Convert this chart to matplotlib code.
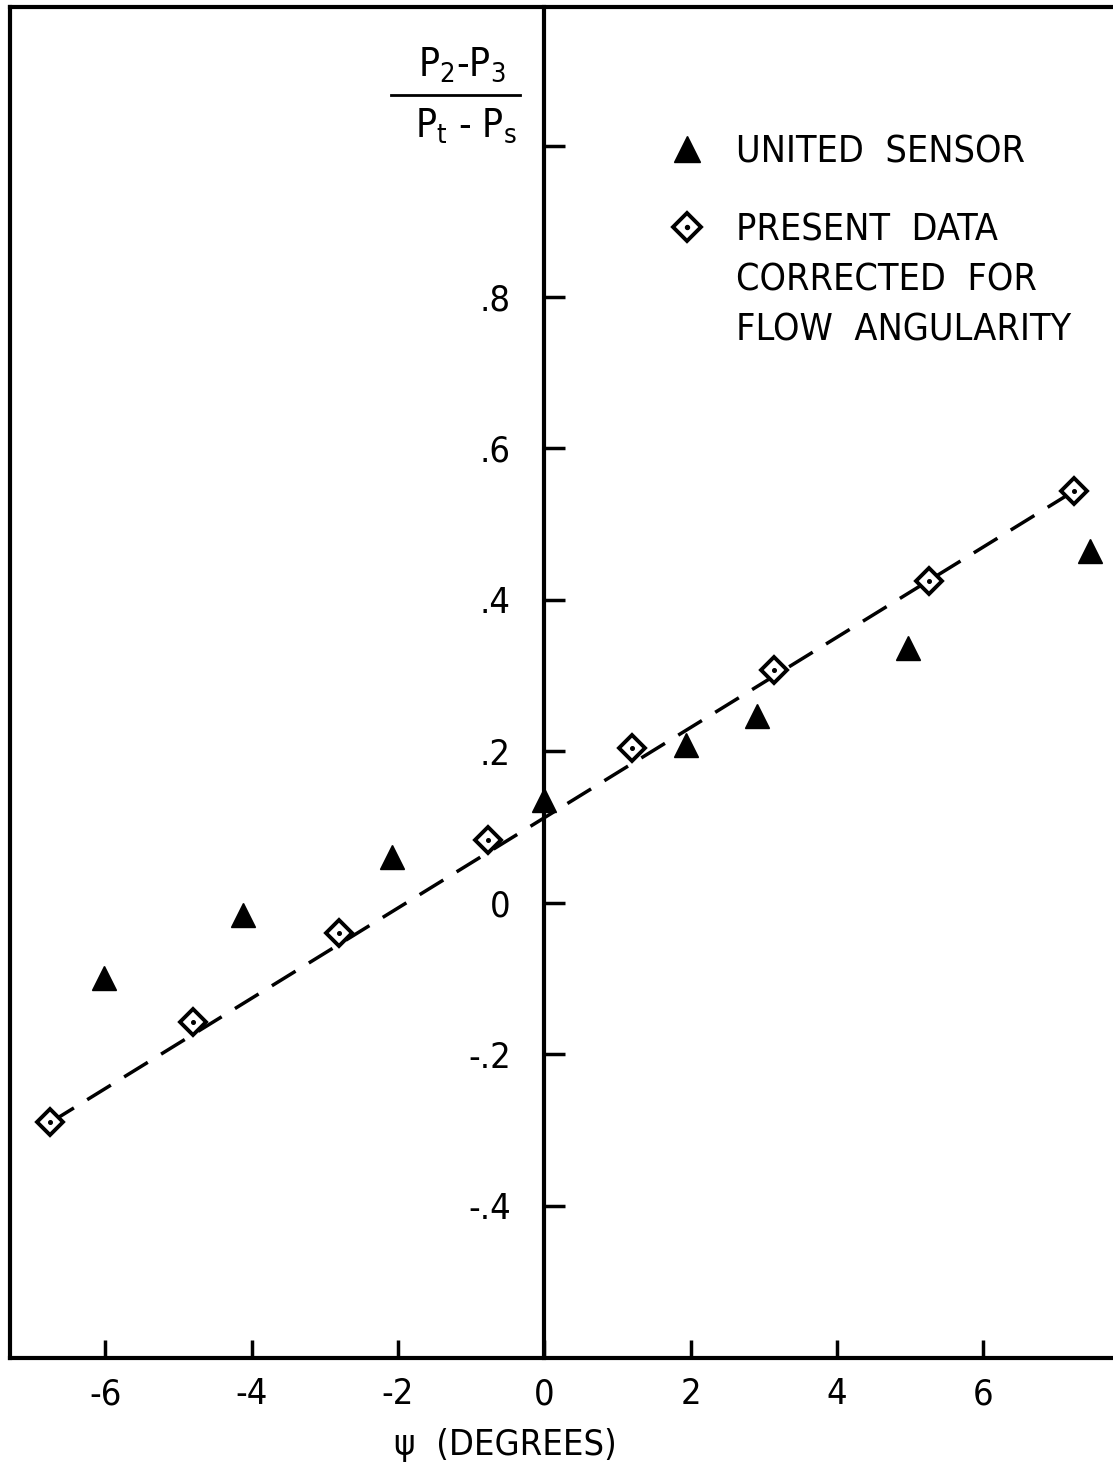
import matplotlib
matplotlib.use("Agg")
import matplotlib.pyplot as plt
from matplotlib import font_manager

# data
sensor_psi = [-6.01, -4.11, -2.08, 0.0, 1.94, 2.91, 4.97, 7.46]
sensor_ratio = [-0.099, -0.016, 0.061, 0.136, 0.209, 0.247, 0.337, 0.465]

present_psi = [-6.75, -4.80, -2.81, -0.77, 1.20, 3.14, 5.26, 7.24]
present_ratio = [-0.290, -0.157, -0.040, 0.083, 0.205, 0.308, 0.425, 0.544]

fit_psi = [-6.75, 7.24]
fit_ratio = [-0.290, 0.544]

x_ticks = [-6, -4, -2, 0, 2, 4, 6]
x_labels = ["-6", "-4", "-2", "0", "2", "4", "6"]
y_ticks = [1.0, 0.8, 0.6, 0.4, 0.2, 0.0, -0.2, -0.4]
y_labels = ["", ".8", ".6", ".4", ".2", "0", "-.2", "-.4"]

# a condensed face is closest to the lettering of the scan
fonts = font_manager.fontManager.ttflist
names = {f.name for f in fonts}
stretch = "normal"
if "Liberation Sans Narrow" in names:
    main_font = "Liberation Sans Narrow"
elif any(f.name == "DejaVu Sans" and f.stretch == "condensed" for f in fonts):
    main_font = "DejaVu Sans"
    stretch = "condensed"
elif "Roboto Condensed" in names:
    main_font = "Roboto Condensed"
else:
    main_font = "Roboto"
plt.rcParams["font.family"] = [main_font, "DejaVu Sans"]
plt.rcParams["font.stretch"] = stretch
plt.rcParams["mathtext.fontset"] = "custom"
plt.rcParams["mathtext.rm"] = main_font
plt.rcParams["mathtext.it"] = main_font
plt.rcParams["mathtext.default"] = "regular"

fig = plt.figure(figsize=(11.13, 14.70), dpi=100)
ax = fig.add_axes([10 / 1113, 112 / 1470, 1103 / 1113, 1351 / 1470])
ax.set_xlim(-7.30, 7.77)
ax.set_ylim(-0.601, 1.183)

ax.plot(fit_psi, fit_ratio, color="black", lw=2.5, dashes=(8, 4.5), zorder=2)
tri, = ax.plot(sensor_psi, sensor_ratio, ls="none", marker="^", ms=17,
               color="black", zorder=4, clip_on=False)
dia, = ax.plot(present_psi, present_ratio, ls="none", marker="D", ms=13,
               mfc="white", mec="black", mew=2.8, zorder=3)
dot, = ax.plot(present_psi, present_ratio, ls="none", marker="o", ms=2.6,
               color="black", zorder=3)

# frame: left, top, bottom
for side in ["left", "top", "bottom"]:
    ax.spines[side].set_linewidth(3)
ax.spines["right"].set_visible(False)
ax.tick_params(axis="y", left=False, labelleft=False)
ax.set_xticks(x_ticks)
ax.set_xticklabels(x_labels)
ax.tick_params(axis="x", direction="in", length=13, width=2.5, pad=14,
               labelsize=26)

# the y axis sits at psi = 0
x0, x1 = ax.get_xlim()
yax = ax.secondary_yaxis((0 - x0) / (x1 - x0))
yax.spines["left"].set_linewidth(3)
yax.set_yticks(y_ticks)
yax.set_yticklabels(y_labels)
yax.tick_params(direction="in", length=15, width=2.5, pad=24, labelsize=26)

ax.set_xlabel("ψ  (DEGREES)", fontsize=26)
ax.xaxis.set_label_coords(0.449, -0.052)

# fraction label for the ordinate
ax.text(0.41, 0.957, "$P_2$-$P_3$", transform=ax.transAxes, fontsize=28,
        ha="center", va="center")
ax.plot([0.345, 0.462], [0.935, 0.935], transform=ax.transAxes, color="black",
        lw=2, clip_on=False)
ax.text(0.413, 0.912, "$P_t$ - $P_s$", transform=ax.transAxes, fontsize=28,
        ha="center", va="center")

leg = ax.legend([tri, (dia, dot)], ["UNITED  SENSOR", "PRESENT  DATA"],
                loc="upper left", bbox_to_anchor=(0.58, 0.917), frameon=False,
                fontsize=27, handletextpad=0.7, labelspacing=1.12,
                handlelength=1.2, borderaxespad=0, markerscale=1.1)

# the rest of the second legend label, flush under "PRESENT DATA"
fig.canvas.draw()
bb = leg.get_texts()[1].get_window_extent().transformed(ax.transAxes.inverted())
ax.text(bb.x0, bb.y0 - 0.011, "CORRECTED  FOR\nFLOW  ANGULARITY",
        transform=ax.transAxes, fontsize=27, ha="left", va="top",
        linespacing=1.5)

fig.savefig("out.png", dpi=100)
